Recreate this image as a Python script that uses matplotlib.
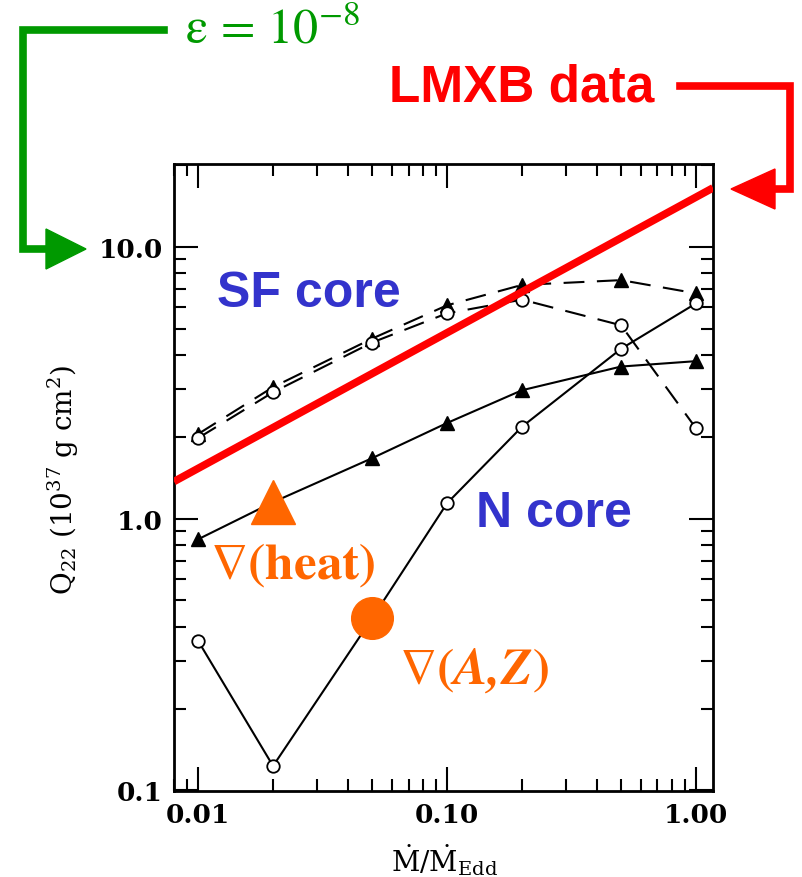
import matplotlib
matplotlib.use("Agg")
import matplotlib.pyplot as plt
from matplotlib.ticker import LogLocator, NullFormatter
from matplotlib.patches import Polygon

# accretion rate in units of Eddington
mdot = [0.01, 0.02, 0.05, 0.1, 0.2, 0.5, 1.0]
# superfluid core (dashed)
sf_tri = [2.05, 3.05, 4.6, 6.1, 7.25, 7.55, 6.75]
sf_circ = [1.98, 2.92, 4.45, 5.7, 6.4, 5.15, 2.15]
# normal core (solid)
n_tri = [0.84, 1.15, 1.67, 2.25, 2.97, 3.63, 3.8]
n_circ = [0.355, 0.123, 0.43, 1.14, 2.18, 4.22, 6.2]
# LMXB torque-balance line
lmxb_x = [0.008, 1.17]
lmxb_q = [1.37, 16.5]

W, H = 802, 878
fig = plt.figure(figsize=(W / 100, H / 100), dpi=100)
ax = fig.add_axes([174 / W, 1 - 792 / H, 539 / W, 627 / H])

dash = (0, (10, 6))
ax.plot(mdot, sf_tri, color="black", lw=1.5, ls=dash, marker="^", ms=9.5, mfc="black", mec="black")
ax.plot(mdot, sf_circ, color="black", lw=1.5, ls=dash, marker="o", ms=9, mfc="white", mec="black", mew=1.3)
ax.plot(mdot, n_tri, color="black", lw=1.5, marker="^", ms=9.5, mfc="black", mec="black")
ax.plot(mdot, n_circ, color="black", lw=1.5, marker="o", ms=9, mfc="white", mec="black", mew=1.3)
ax.plot(lmxb_x, lmxb_q, color="#ff0000", lw=5.5, solid_capstyle="butt", zorder=5)

orange = "#ff6600"
ax.plot(mdot[1], n_tri[1], marker="^", ms=32, color=orange, zorder=6)
ax.plot(mdot[2], n_circ[2], marker="o", ms=30, color=orange, zorder=6)

ax.set_xscale("log")
ax.set_yscale("log")
ax.set_xlim(0.008, 1.17)
ax.set_ylim(0.0995, 20.2)
ax.set_xticks([0.01, 0.1, 1.0], labels=["0.01", "0.10", "1.00"])
ax.set_yticks([0.1, 1.0, 10.0], labels=["0.1", "1.0", "10.0"])
ax.xaxis.set_minor_locator(LogLocator(subs=range(2, 10)))
ax.yaxis.set_minor_locator(LogLocator(subs=range(2, 10)))
ax.xaxis.set_minor_formatter(NullFormatter())
ax.yaxis.set_minor_formatter(NullFormatter())
ax.tick_params(which="both", direction="in", top=True, right=True, width=1.5)
ax.tick_params(which="major", length=17, labelsize=19, pad=8)
ax.tick_params(which="minor", length=8.5)
for lab in ax.get_xticklabels() + ax.get_yticklabels():
    lab.set_family("DejaVu Serif")
    lab.set_fontweight("bold")
for s in ax.spines.values():
    s.set_linewidth(2)

# overlay in pixel coordinates for labels and connectors
ov = fig.add_axes([0, 0, 1, 1], zorder=10)
ov.set_xlim(0, W)
ov.set_ylim(H, 0)
ov.axis("off")

ov.text(63, 480, r"$\mathrm{Q}_{22}\ (10^{37}\ \mathrm{g\ cm}^{2})$", rotation=90,
        ha="center", va="center", fontsize=20, math_fontfamily="dejavuserif")
ov.text(444, 860, r"$\dot{\mathrm{M}}/\dot{\mathrm{M}}_{\mathrm{Edd}}$",
        ha="center", va="center", fontsize=20, math_fontfamily="dejavuserif")

blue = "#3333cc"
ov.text(217, 307, "SF core", color=blue, fontsize=36, fontweight="bold",
        family="Liberation Sans", ha="left", va="baseline")
ov.text(476, 527, "N core", color=blue, fontsize=36, fontweight="bold",
        family="Liberation Sans", ha="left", va="baseline")
ov.text(210, 565, r"$\nabla\mathbf{(heat)}$", color=orange, fontsize=37,
        math_fontfamily="stix", ha="left", va="center")
ov.text(399, 670, r"$\nabla\mathbf{(}\mathbfit{A{,}Z}\mathbf{)}$", color=orange, fontsize=37,
        math_fontfamily="stix", ha="left", va="center")

green = "#009900"
ov.text(185, 30, r"$\mathrm{\varepsilon}\,=\,10^{-8}$", color=green, fontsize=36,
        math_fontfamily="stix", ha="left", va="center")
ov.plot([164, 23, 23, 50], [31, 31, 250, 250], color=green, lw=5.5, solid_joinstyle="miter")
ov.add_patch(Polygon([(46, 230), (46, 270), (86, 250)], closed=True, color=green))

red = "#ff0000"
ov.text(389, 102, "LMXB data", color=red, fontsize=37, fontweight="bold",
        family="Liberation Sans", ha="left", va="baseline")
ov.plot([680, 790, 790, 770], [87, 87, 190, 190], color=red, lw=5.5, solid_joinstyle="miter")
ov.add_patch(Polygon([(775, 170), (775, 210), (731, 190)], closed=True, color=red))

fig.savefig("out.png", dpi=100)
